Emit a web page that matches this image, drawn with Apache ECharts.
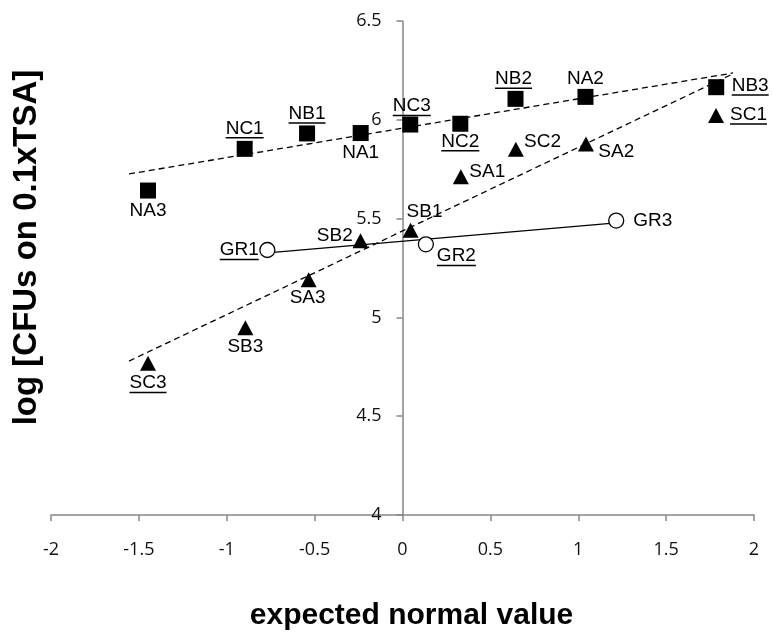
<!DOCTYPE html>
<html><head><meta charset="utf-8">
<script src="https://cdn.jsdelivr.net/npm/echarts@6/dist/echarts.min.js"></script>
<style>html,body{margin:0;padding:0;background:#fff}#c{width:773px;height:632px}</style>
</head><body><div id="c"></div>
<script>
// ---- data ----
const nNames = ['NA3','NC1','NB1','NA1','NC3','NC2','NB2','NA2','NB3'];
const nX = [-1.448,-0.898,-0.543,-0.238,0.044,0.329,0.643,1.041,1.785];
const nY = [5.642,5.853,5.931,5.933,5.976,5.980,6.106,6.116,6.165];

const sNames = ['SC3','SB3','SA3','SB2','SB1','SA1','SC2','SA2','SC1'];
const sX = [-1.448,-0.894,-0.534,-0.239,0.046,0.332,0.645,1.044,1.784];
const sY = [4.768,4.947,5.191,5.388,5.441,5.712,5.851,5.878,6.022];

const gNames = ['GR1','GR2','GR3'];
const gX = [-0.769,0.133,1.216];
const gY = [5.341,5.370,5.490];

// trend-line end points
const nTrendX = [-1.556, 1.881];
const nTrendY = [5.726, 6.237];
const sTrendX = [-1.556, 1.881];
const sTrendY = [4.779, 6.233];
const gTrendX = [-0.769, 1.216];
const gTrendY = [5.327, 5.478];

const underlinedNames = ['NC1','NB1','NC3','NC2','NB2','NB3','SC1','SC3','GR1','GR2'];

const xTitle = 'expected normal value';
const yTitle = 'log [CFUs on 0.1xTSA]';

// ---- label placement (style, not data): [align, dx, dy of text centre] ----
const labelPlace = {
  NA3:['center',0,20], NC1:['center',0,-20.5], NB1:['center',0,-20], NA1:['center',0,20],
  NC3:['center',1.5,-18.5], NC2:['center',0,17.6], NB2:['center',-2,-20], NA2:['center',0,-18],
  NB3:['left',15.5,-1.7],
  SC3:['center',0,19.7], SB3:['center',0,19], SA3:['center',-1,18], SB2:['right',-7.8,-4.5],
  SB1:['left',-4,-18.5], SA1:['left',8.5,-5], SC2:['left',8.2,-7.5], SA2:['left',12.3,7.7],
  SC1:['left',14,-1],
  GR1:['right',-8.6,0], GR2:['left',11,11.6], GR3:['left',17,0]
};

const LABEL_FONT_SIZE = 19;
const LABEL_FAMILY = '"Liberation Sans", Arial, sans-serif';
const LINE_H = 17;
const UL_H = 1.5, UL_LH = 2;

const mctx = document.createElement('canvas').getContext('2d');
mctx.font = LABEL_FONT_SIZE + 'px ' + LABEL_FAMILY;

function buildPoints(names, xs, ys) {
  return names.map((nm, i) => {
    const pl = labelPlace[nm];
    const ul = underlinedNames.indexOf(nm) >= 0;
    const w = Math.round(mctx.measureText(nm).width);
    const dy = pl[2] + (ul ? (UL_LH) / 2 : 0);
    return {
      value: [xs[i], ys[i]],
      name: nm,
      label: {
        show: true,
        position: 'inside',
        align: pl[0],
        verticalAlign: 'middle',
        offset: [pl[1], dy],
        color: '#000',
        formatter: ul ? '{t|' + nm + '}\n{u|}' : '{t|' + nm + '}',
        rich: {
          t: { fontSize: LABEL_FONT_SIZE, fontFamily: LABEL_FAMILY, lineHeight: LINE_H, color: '#000', align: pl[0] },
          u: { width: w, height: UL_H, lineHeight: UL_LH, backgroundColor: '#000', align: pl[0] }
        }
      }
    };
  });
}
function pairs(xs, ys) { return xs.map((x, i) => [x, ys[i]]); }

const GRID_L = 51, GRID_R = 19;
const X_MIN = -2, X_MAX = 2;
const axisGray = '#868686';
// pixel offset that puts the y axis on x = 0 (layout only)
const plotW = 773 - GRID_L - GRID_R;
const yAxisOffset = -plotW * (0 - X_MIN) / (X_MAX - X_MIN);
const tickFont = '"Open Sans", sans-serif';

const chart = echarts.init(document.getElementById('c'), null, { renderer: 'canvas' });
chart.setOption({
  animation: false,
  backgroundColor: '#fff',
  grid: { left: GRID_L, right: GRID_R, top: 21, bottom: 117 },
  xAxis: {
    type: 'value', min: X_MIN, max: X_MAX, interval: 0.5,
    splitLine: { show: false },
    axisLine: { onZero: false, lineStyle: { color: axisGray, width: 1.5 } },
    axisTick: { show: true, length: 6, lineStyle: { color: axisGray, width: 1.5 } },
    axisLabel: { fontFamily: tickFont, fontSize: 18, color: '#111', margin: 26 }
  },
  yAxis: {
    type: 'value', min: 4, max: 6.5, interval: 0.5,
    position: 'left', offset: yAxisOffset,
    splitLine: { show: false },
    axisLine: { onZero: false, lineStyle: { color: axisGray, width: 1.5 } },
    axisTick: { show: true, length: 6, lineStyle: { color: axisGray, width: 1.5 } },
    axisLabel: { fontFamily: tickFont, fontSize: 18, color: '#111', margin: 21, padding: [3, 0, 0, 0] }
  },
  graphic: [
    { type: 'text', x: 411.5, y: 616, z: 100,
      style: { text: xTitle, font: 'bold 30px "Liberation Sans", Arial, sans-serif', fill: '#000', align: 'center', verticalAlign: 'middle' } },
    { type: 'text', x: 27, y: 247.5, rotation: Math.PI / 2, z: 100,
      style: { text: yTitle, font: 'bold 33px "Liberation Sans", Arial, sans-serif', fill: '#000', align: 'center', verticalAlign: 'middle' } }
  ],
  series: [
    { type: 'line', data: pairs(nTrendX, nTrendY), symbol: 'none', silent: true, z: 1,
      lineStyle: { color: '#000', width: 1.3, type: [6, 4] } },
    { type: 'line', data: pairs(sTrendX, sTrendY), symbol: 'none', silent: true, z: 1,
      lineStyle: { color: '#000', width: 1.3, type: [6, 4] } },
    { type: 'line', data: pairs(gTrendX, gTrendY), symbol: 'none', silent: true, z: 1,
      lineStyle: { color: '#000', width: 1.3 } },
    { type: 'scatter', data: buildPoints(nNames, nX, nY), symbol: 'rect', symbolSize: 16, z: 3,
      itemStyle: { color: '#000', opacity: 1 } },
    { type: 'scatter', data: buildPoints(sNames, sX, sY), symbol: 'triangle', symbolSize: [16, 15], z: 3,
      itemStyle: { color: '#000', opacity: 1 } },
    { type: 'scatter', data: buildPoints(gNames, gX, gY), symbol: 'circle', symbolSize: 15, z: 3,
      itemStyle: { color: '#fff', borderColor: '#000', borderWidth: 1.3, opacity: 1 } }
  ]
});
</script>
</body></html>
